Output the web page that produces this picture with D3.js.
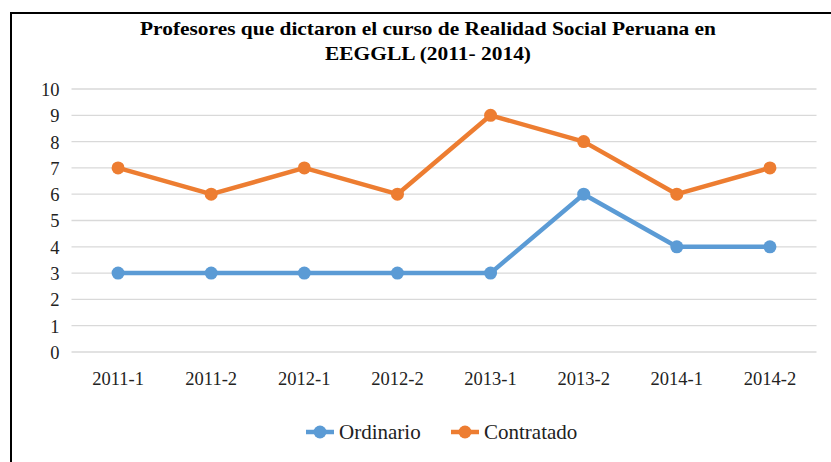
<!DOCTYPE html>
<html lang="en">
<head>
<meta charset="utf-8">
<title>Profesores</title>
<script src="https://d3js.org/d3.v7.min.js"></script>
<style>
  body { margin: 0; background: #fff; }
</style>
</head>
<body>
<div id="vis"></div>
<script>
var semestres = ["2011-1", "2011-2", "2012-1", "2012-2", "2013-1", "2013-2", "2014-1", "2014-2"];
var ordinario = [3, 3, 3, 3, 3, 6, 4, 4];
var contratado = [7, 6, 7, 6, 9, 8, 6, 7];
var yTicks = [0, 1, 2, 3, 4, 5, 6, 7, 8, 9, 10];
var seriesNames = ["Ordinario", "Contratado"];
var colors = ["#5B9BD5", "#ED7D31"];

var FONT = "Times New Roman, Liberation Serif, serif";
var W = 831, H = 462;
var margin = { left: 71.5, right: 14.5, top: 89, bottom: 110 };
var width = W - margin.left - margin.right;
var height = H - margin.top - margin.bottom;

var svg = d3.select("#vis").append("svg")
  .attr("width", W)
  .attr("height", H)
  .attr("font-family", FONT);

// frame (top and left edges visible)
svg.append("path")
  .attr("d", "M11,462 L11,13 L831,13")
  .attr("fill", "none")
  .attr("stroke", "#000")
  .attr("stroke-width", 2);

// title is a bit stretched sideways in the original
var title = ["Profesores que dictaron el curso de Realidad Social Peruana en", "EEGGLL (2011- 2014)"];
var titleLen = [576, 206];
svg.selectAll(".title").data(title).enter().append("text")
  .attr("class", "title")
  .attr("x", 428)
  .attr("y", function(d, i){ return 35 + i * 25; })
  .attr("text-anchor", "middle")
  .attr("font-family", FONT)
  .attr("font-weight", "bold").attr("font-size", 19.5)
  .attr("fill", "#000")
  .attr("textLength", function(d, i){ return titleLen[i]; })
  .attr("lengthAdjust", "spacingAndGlyphs")
  .text(function(d){ return d; });

var g = svg.append("g")
  .attr("transform", "translate(" + margin.left + "," + margin.top + ")");

var x = d3.scaleBand().domain(semestres).range([0, width]);
var y = d3.scaleLinear().domain([0, 10]).range([height, 0]);

// gridlines
g.append("g").selectAll("line").data(yTicks).enter().append("line")
  .attr("x1", 0).attr("x2", width)
  .attr("y1", function(d){ return y(d); })
  .attr("y2", function(d){ return y(d); })
  .attr("stroke", "#d9d9d9").attr("stroke-width", 1.3);

var yAxis = g.append("g")
  .call(d3.axisLeft(y).tickValues(yTicks).tickSize(0).tickPadding(12))
  .attr("font-family", FONT).attr("font-size", 18.5);
yAxis.select(".domain").remove();
yAxis.selectAll("text").attr("fill", "#222").attr("dy", "0.35em");

var xAxis = g.append("g")
  .attr("transform", "translate(0," + height + ")")
  .call(d3.axisBottom(x).tickSize(0).tickPadding(20))
  .attr("font-family", FONT).attr("font-size", 18.5);
xAxis.select(".domain").remove();
xAxis.selectAll("text").attr("fill", "#222");

var data = [ordinario, contratado];
var line = d3.line()
  .x(function(d, i){ return x(semestres[i]) + x.bandwidth() / 2; })
  .y(function(d){ return y(d); });

data.forEach(function(vals, k) {
  g.append("path")
    .attr("d", line(vals))
    .attr("fill", "none")
    .attr("stroke", colors[k])
    .attr("stroke-width", 4.5)
    .attr("stroke-linejoin", "round");
  g.selectAll(".pt" + k).data(vals).enter().append("circle")
    .attr("cx", function(d, i){ return x(semestres[i]) + x.bandwidth() / 2; })
    .attr("cy", function(d){ return y(d); })
    .attr("r", 6.5)
    .attr("fill", colors[k]);
});

// legend
var legendX = [306, 451];
seriesNames.forEach(function(name, k) {
  var lg = svg.append("g").attr("transform", "translate(" + legendX[k] + ",432)");
  lg.append("line").attr("x1", 0).attr("x2", 28)
    .attr("stroke", colors[k]).attr("stroke-width", 4.5);
  lg.append("circle").attr("cx", 14).attr("r", 6.5).attr("fill", colors[k]);
  lg.append("text").attr("x", 33).attr("dy", "0.35em")
    .attr("font-family", FONT).attr("font-size", 21).attr("fill", "#222")
    .text(name);
});
</script>
</body>
</html>
